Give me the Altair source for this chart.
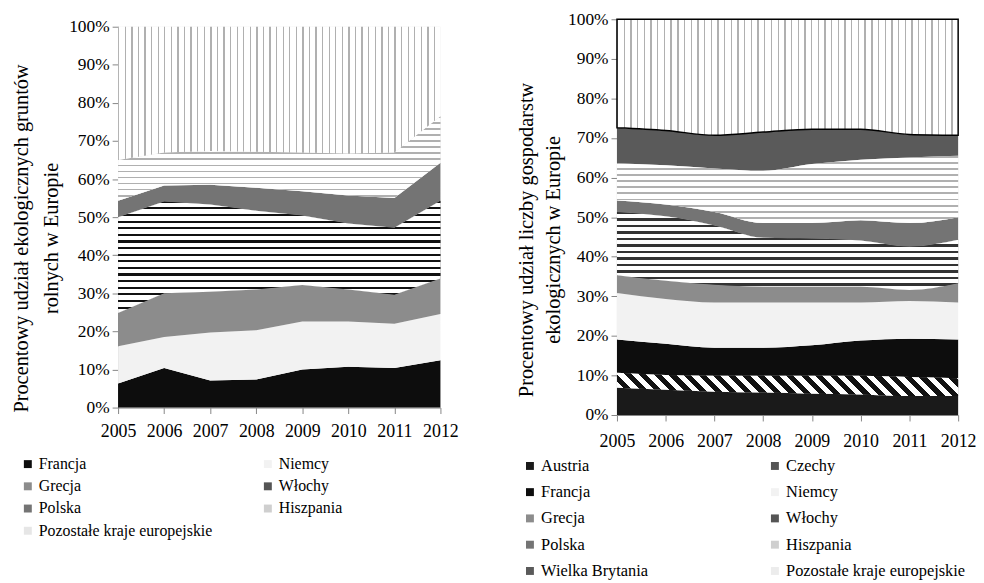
import altair as alt
import pandas as pd

years = [2005, 2006, 2007, 2008, 2009, 2010, 2011, 2012]

# ---- left chart: share of organic agricultural land (%) ----
left_series = ["Francja", "Niemcy", "Grecja", "Włochy", "Polska", "Hiszpania",
               "Pozostałe kraje europejskie"]
l_francja = [6.3, 10.4, 7.1, 7.4, 10.0, 10.7, 10.4, 12.4]
l_niemcy = [9.8, 8.1, 12.6, 12.9, 12.6, 11.9, 11.6, 12.2]
l_grecja = [8.7, 11.5, 10.7, 10.7, 9.6, 8.4, 7.6, 9.3]
l_wlochy = [25.2, 24.1, 22.9, 20.7, 18.2, 17.3, 17.6, 20.4]
l_polska = [4.3, 4.2, 5.2, 6.0, 6.4, 7.4, 7.8, 10.0]
l_hiszpania = [10.7, 8.7, 8.9, 9.5, 10.2, 11.0, 12.0, 12.2]
l_pozostale = [35.0, 33.0, 32.6, 32.8, 33.0, 33.3, 33.0, 23.5]
left_colors = ["#0d0d0d", "#f2f2f2", "#8c8c8c", "#555555", "#747474", "#cfcfcf", "#e6e6e6"]

# ---- right chart: share of organic farms (%) ----
right_series = ["Austria", "Czechy", "Francja", "Niemcy", "Grecja", "Włochy", "Polska",
                "Hiszpania", "Wielka Brytania", "Pozostałe kraje europejskie"]
r_austria = [6.9, 6.4, 5.9, 5.7, 5.4, 5.2, 4.8, 4.8]
r_czechy = [3.8, 3.7, 4.0, 4.2, 4.5, 4.7, 4.8, 4.5]
r_francja = [8.4, 7.9, 7.1, 7.1, 7.7, 8.9, 9.7, 9.8]
r_niemcy = [11.7, 11.3, 11.4, 11.4, 10.8, 9.6, 9.5, 9.3]
r_grecja = [4.5, 4.6, 4.5, 4.0, 4.0, 4.0, 2.8, 4.9]
r_wlochy = [16.0, 16.3, 15.0, 12.4, 12.2, 11.7, 11.0, 11.0]
r_polska = [2.9, 3.0, 3.4, 3.7, 3.9, 5.1, 5.9, 5.7]
r_hiszpania = [9.4, 9.9, 11.0, 13.2, 14.9, 15.3, 16.6, 15.5]
r_wb = [9.0, 8.8, 8.4, 9.8, 8.8, 7.7, 5.8, 5.2]
r_pozostale = [27.4, 28.1, 29.3, 28.5, 27.8, 27.8, 29.1, 29.3]
right_colors = ["#1a1a1a", "#555555", "#0d0d0d", "#f2f2f2", "#8c8c8c", "#555555",
                "#747474", "#cfcfcf", "#5a5a5a", "#ececec"]

left_title = ["Procentowy udział ekologicznych gruntów", "rolnych w Europie"]
right_title = ["Procentowy udział liczby gospodarstw", "ekologicznych w Europie"]

left_values = dict(zip(left_series, [l_francja, l_niemcy, l_grecja, l_wlochy, l_polska,
                                     l_hiszpania, l_pozostale]))
right_values = dict(zip(right_series, [r_austria, r_czechy, r_francja, r_niemcy, r_grecja,
                                       r_wlochy, r_polska, r_hiszpania, r_wb, r_pozostale]))

FONT = "Liberation Serif, Times New Roman, serif"


def stripes(n, frac, line, bg, x1, y1, x2, y2):
    stops = []
    for i in range(n):
        a = i / n
        b = (i + frac) / n
        e = min((i + 1) / n, 1.0)
        stops += [{"offset": round(a, 5), "color": line},
                  {"offset": round(b, 5), "color": line},
                  {"offset": round(b, 5), "color": bg},
                  {"offset": round(e, 5), "color": bg}]
    return {"gradient": "linear", "x1": x1, "y1": y1, "x2": x2, "y2": y2, "stops": stops}


def band_px(series, values, name, H):
    k = series.index(name)
    tops = [sum(values[s][j] for s in series[:k + 1]) for j in range(len(years))]
    bots = [sum(values[s][j] for s in series[:k]) for j in range(len(years))]
    return (max(tops) - min(bots)) / 100.0 * H


def hstripes(series, values, name, H, period, frac, line, bg="white"):
    h = band_px(series, values, name, H)
    n = max(1, round(h / period))
    return stripes(n, frac, line, bg, 0, 0, 0, 1)


def vstripes(W, period, frac, line, bg="white"):
    n = max(1, round(W / period))
    return stripes(n, frac, line, bg, 0, 0, 1, 0)


def dstripes(series, values, name, W, H, period, frac, line, bg="white"):
    h = band_px(series, values, name, H)
    k = h / W
    s = (1 + k) / (1 + k * k)
    n = max(1, round((W + h) / period))
    return stripes(n, frac, line, bg, 0, 1, s, 1 - s * k)


def panel(series, values, colors, W, H, interp, title_lines, patterns, legend, xlabpad,
          titleX, titleY, titleLH):
    rows = []
    for k, s in enumerate(series):
        for j, yr in enumerate(years):
            rows.append({"year": yr, "series": s, "value": values[s][j], "order": k})
    df = pd.DataFrame(rows)
    base = alt.Chart(df).transform_stack(
        stack="value", groupby=["year"], as_=["y0", "y1"],
        sort=[alt.SortField("order", order="ascending")])
    x = alt.X("year:Q", scale=alt.Scale(domain=[2005, 2012], nice=False, zero=False),
              axis=alt.Axis(values=years, format="d", title=None, grid=False,
                            labelFontSize=18, labelPadding=xlabpad, tickSize=6,
                            labelOverlap=False, labelFlush=False,
                            domainColor="#868686", tickColor="#868686", labelColor="black",
                            labelFont=FONT))
    y = alt.Y("y0:Q", scale=alt.Scale(domain=[0, 100], nice=False), stack=False,
              axis=alt.Axis(values=list(range(0, 101, 10)), labelExpr="datum.value + '%'",
                            title=title_lines, grid=False, labelFontSize=17.5,
                            labelOverlap=False, labelFlush=False,
                            labelPadding=3, tickSize=6, domainColor="#868686",
                            tickColor="#868686", labelColor="black", labelFont=FONT,
                            titleFont=FONT, titleFontSize=20.5, titleFontWeight="normal",
                            titleColor="black", titleLineHeight=titleLH, titleX=titleX,
                            titleY=titleY))
    layers = [base.mark_area(interpolate=interp).encode(
        x=x, y=y, y2="y1:Q",
        color=alt.Color("series:N", scale=alt.Scale(domain=series, range=colors),
                        legend=legend))]
    for name, grad, extra in patterns:
        layers.append(base.transform_filter(
            alt.FieldEqualPredicate(field="series", equal=name)
        ).mark_area(interpolate=interp, fill=grad, **extra).encode(x=x, y=y, y2="y1:Q"))
    return alt.layer(*layers).properties(width=W, height=H)


LW, LH = 325, 384
RW, RH = 344, 399

left_patterns = [
    ("Włochy", hstripes(left_series, left_values, "Włochy", LH, 6.5, 0.32, "#111111"), {}),
    ("Hiszpania", hstripes(left_series, left_values, "Hiszpania", LH, 6.0, 0.3, "#b0b0b0"), {}),
    ("Pozostałe kraje europejskie", vstripes(LW, 6.7, 0.2, "#b0b0b0"), {}),
]
right_patterns = [
    ("Czechy", dstripes(right_series, right_values, "Czechy", RW, RH, 14.5, 0.5, "#111111"), {}),
    ("Włochy", hstripes(right_series, right_values, "Włochy", RH, 6.7, 0.32, "#333333"), {}),
    ("Hiszpania", hstripes(right_series, right_values, "Hiszpania", RH, 6.0, 0.3, "#b0b0b0"), {}),
    ("Pozostałe kraje europejskie", vstripes(RW, 6.7, 0.2, "#b0b0b0"),
     {"stroke": "black", "strokeWidth": 1.5}),
]

left_legend = alt.Legend(title=None, orient="none", legendX=-99, legendY=433, columns=2,
                         direction="horizontal",
                         columnPadding=47, rowPadding=6.4, symbolType="square",
                         symbolSize=64, symbolStrokeWidth=0, labelFontSize=16,
                         labelFont=FONT, labelColor="black", labelOffset=3, labelLimit=400)
right_legend = alt.Legend(title=None, orient="none", legendX=-96, legendY=442, columns=2,
                          direction="horizontal",
                          columnPadding=119, rowPadding=9.5, symbolType="square",
                          symbolSize=64, symbolStrokeWidth=0, labelFontSize=16.5,
                          labelFont=FONT, labelColor="black", labelOffset=3, labelLimit=400)

left = panel(left_series, left_values, left_colors, LW, LH, "linear", left_title,
             left_patterns, left_legend, 9, -87, 213, 30)
right = panel(right_series, right_values, right_colors, RW, RH, "monotone", right_title,
              right_patterns, right_legend, 12, -81, 222, 27)

chart = alt.hconcat(left, right, spacing=178, bounds="flush", center=True).resolve_scale(
    color="independent"
).properties(
    padding={"left": 3, "top": 0, "right": 0, "bottom": 0}
).configure(font=FONT).configure_legend(labelFont=FONT).configure_view(stroke=None)

chart.save("out.html", embed_options={"renderer": "svg", "actions": False})
